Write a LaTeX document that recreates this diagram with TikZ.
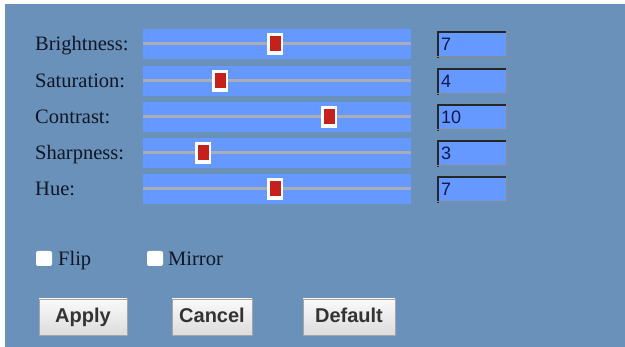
\documentclass[tikz,border=0pt]{standalone}
\usepackage{fontspec}
\setmainfont{Liberation Serif}
\newfontfamily\arialfont{Liberation Sans}
\definecolor{panelbg}{RGB}{106,145,186}
\definecolor{barblue}{RGB}{102,153,255}
\definecolor{trackgray}{RGB}{170,172,182}
\definecolor{knobred}{RGB}{196,32,28}
\definecolor{labeltext}{RGB}{16,22,38}
\definecolor{inputtext}{RGB}{15,25,75}
\definecolor{btnborder}{RGB}{165,165,165}
\definecolor{btntop}{RGB}{250,250,250}
\definecolor{btnbot}{RGB}{220,220,220}
\tikzset{
  lbl/.style={anchor=base west, inner sep=0pt, font=\fontsize{20.5}{21}\selectfont, text=labeltext},
  sbar/.style={fill=barblue, draw=none, minimum width=268pt, minimum height=30pt, inner sep=0pt, anchor=west},
  track/.style={draw=trackgray, line width=3pt},
  knob/.style={fill=white, draw=none, minimum width=16pt, minimum height=22pt, inner sep=0pt},
  knobin/.style={fill=knobred, draw=none, minimum width=11pt, minimum height=15pt, inner sep=0pt},
  inbox/.style={fill=barblue, draw=none, minimum width=70pt, minimum height=26pt, inner sep=0pt, anchor=west},
  intext/.style={anchor=base west, inner sep=0pt, font=\arialfont\fontsize{18}{18}\selectfont, text=inputtext},
  cbox/.style={fill=white, draw=none, rounded corners=2pt, minimum width=16pt, minimum height=15pt, inner sep=0pt},
  btn/.style={draw=btnborder, line width=0.8pt, top color=btntop, bottom color=btnbot, inner sep=0pt, text height=14.5pt, text depth=4pt, minimum height=36pt, font=\arialfont\bfseries\fontsize{20}{20}\selectfont, text=black!80},
}
\begin{document}
\begin{tikzpicture}[x=1pt,y=-1pt]
\useasboundingbox (0,0) rectangle (625,347);
\fill[white] (0,0) rectangle (625,347);
\fill[panelbg] (5,4) rectangle (625,347);
% rows
\foreach \name/\txt/\yc/\kx/\val in {br/Brightness:/44/275/7, sa/Saturation:/81/220/4, co/Contrast:/117/329/10, sh/Sharpness:/153/203/3, hu/Hue:/189/275/7}{
  \node[lbl] (l\name) at (35,\yc+6.5) {\txt};
  \node[sbar] (b\name) at (143,\yc) {};
  \draw[track] (b\name.west) -- (b\name.east);
  \node[knob] (k\name) at (\kx,\yc) {};
  \node[knobin] (r\name) at (k\name.center) {};
  \node[inbox] (i\name) at (437,\yc) {};
  \draw[draw=black!85, line width=2pt] ([xshift=1pt,yshift=-1pt]i\name.south west) -- ([xshift=1pt,yshift=-1pt]i\name.north west) -- ([yshift=-1pt]i\name.north east);
  \draw[draw=gray!90, line width=1.5pt] ([xshift=-0.75pt]i\name.north east) -- ([xshift=-0.75pt,yshift=0.75pt]i\name.south east) -- ([yshift=0.75pt]i\name.south west);
  \node[intext] (t\name) at (441,\yc+6.5) {\val};
}
% checkboxes
\node[cbox] (cflip) at (44,258.5) {};
\node[lbl] (lflip) at (58,265.5) {Flip};
\node[cbox] (cmirror) at (155,258.5) {};
\node[lbl] (lmirror) at (168,265.5) {Mirror};
% buttons
\node[btn, minimum width=88pt] (apply) at (83,317) {Apply};
\node[btn, minimum width=80pt] (cancel) at (212,317) {Cancel};
\node[btn, minimum width=92pt] (default) at (349,317) {Default};
\end{tikzpicture}
\end{document}
